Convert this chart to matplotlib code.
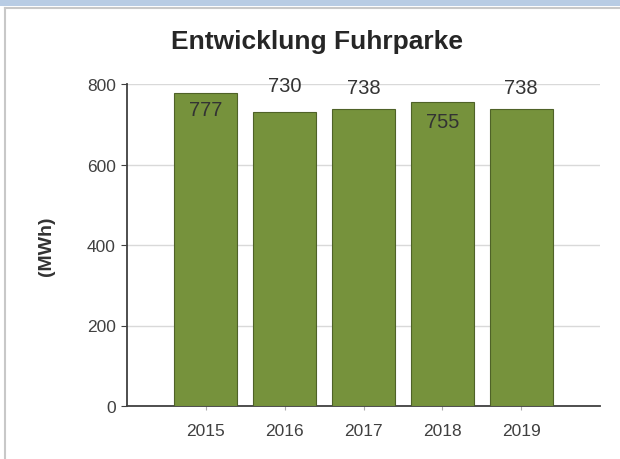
import matplotlib.pyplot as plt
import matplotlib.patches as patches
from matplotlib.lines import Line2D

plt.rcParams['font.family'] = ['Liberation Sans', 'DejaVu Sans']

years = ["2015", "2016", "2017", "2018", "2019"]
energy_mwh = [777, 730, 738, 755, 738]
# label offset from the bar top in pixels (negative = inside the bar)
label_offsets = [-16, 27, 21, -19, 21]

bar_color = "#76923c"
edge_color = "#4f6228"

fig = plt.figure(figsize=(6.2, 4.6), dpi=100)

# blue strip and grey panel frame
fig.patches.append(patches.Rectangle((0, 1 - 7 / 460), 1, 7 / 460, transform=fig.transFigure,
                                     facecolor="#b8cce4", edgecolor="none", zorder=0))
fig.lines.append(Line2D([5 / 620, 1], [1 - 8.5 / 460, 1 - 8.5 / 460], transform=fig.transFigure,
                        color="#c8c8c8", linewidth=1.5))
fig.lines.append(Line2D([5 / 620, 5 / 620], [0, 1 - 8.5 / 460], transform=fig.transFigure,
                        color="#c8c8c8", linewidth=1.5))

ax = fig.add_axes([127 / 620, 1 - 407 / 460, 473 / 620, 322 / 460])
x = range(len(years))
bars = ax.bar(x, energy_mwh, width=0.8, color=bar_color, edgecolor=edge_color, linewidth=0.8, zorder=3)

for i, (b, v) in enumerate(zip(bars, energy_mwh)):
    ax.annotate(str(v), (b.get_x() + b.get_width() / 2, v), xytext=(0, label_offsets[i]),
                textcoords="offset pixels", ha="center", va="center", fontsize=14.5,
                color="#333333", zorder=4)

ax.set_xlim(-1, 5)
ax.set_ylim(0, 800)
ax.set_yticks([0, 200, 400, 600, 800])
ax.set_xticks(list(x))
ax.set_xticklabels(years)
ax.yaxis.grid(True, color="#d9d9d9", linewidth=1)
ax.set_axisbelow(True)

for side in ["top", "right"]:
    ax.spines[side].set_visible(False)
ax.spines["left"].set_color("#404040")
ax.spines["bottom"].set_color("#404040")
ax.spines["left"].set_linewidth(1.3)
ax.spines["bottom"].set_linewidth(1.3)
ax.tick_params(axis="y", length=4, color="#404040", labelsize=12.5, labelcolor="#404040", pad=4)
ax.tick_params(axis="x", length=3, color="#aaaaaa", labelsize=12.5, labelcolor="#404040", pad=9)

ax.set_ylabel("(MWh)", fontsize=14, fontweight="bold", color="#333333", labelpad=23)
fig.text(317 / 620, 1 - 42 / 460, "Entwicklung Fuhrparke", ha="center", va="center",
         fontsize=19, fontweight="bold", color="#262626")

fig.savefig("out.png", dpi=100)
